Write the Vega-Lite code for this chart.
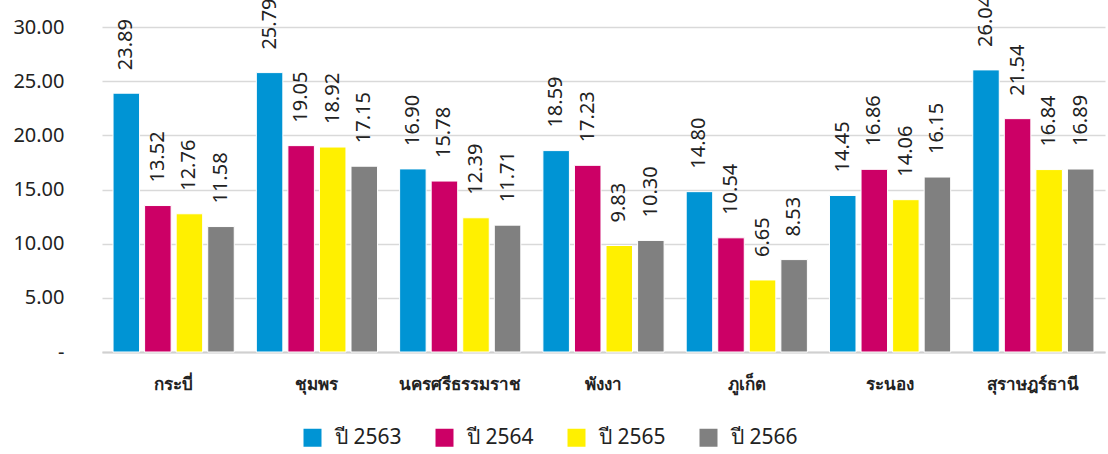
{
  "$schema": "https://vega.github.io/schema/vega-lite/v6.json",
  "autosize": "none",
  "width": 1003,
  "height": 325,
  "padding": {"left": 102, "top": 27, "right": 3, "bottom": 102},
  "background": "white",
  "config": {
    "view": {"stroke": null},
    "font": "Noto Sans"
  },
  "data": {
    "values": [
      {"province": "กระบี่", "year": "ปี 2563", "value": 23.89},
      {"province": "กระบี่", "year": "ปี 2564", "value": 13.52},
      {"province": "กระบี่", "year": "ปี 2565", "value": 12.76},
      {"province": "กระบี่", "year": "ปี 2566", "value": 11.58},
      {"province": "ชุมพร", "year": "ปี 2563", "value": 25.79},
      {"province": "ชุมพร", "year": "ปี 2564", "value": 19.05},
      {"province": "ชุมพร", "year": "ปี 2565", "value": 18.92},
      {"province": "ชุมพร", "year": "ปี 2566", "value": 17.15},
      {"province": "นครศรีธรรมราช", "year": "ปี 2563", "value": 16.90},
      {"province": "นครศรีธรรมราช", "year": "ปี 2564", "value": 15.78},
      {"province": "นครศรีธรรมราช", "year": "ปี 2565", "value": 12.39},
      {"province": "นครศรีธรรมราช", "year": "ปี 2566", "value": 11.71},
      {"province": "พังงา", "year": "ปี 2563", "value": 18.59},
      {"province": "พังงา", "year": "ปี 2564", "value": 17.23},
      {"province": "พังงา", "year": "ปี 2565", "value": 9.83},
      {"province": "พังงา", "year": "ปี 2566", "value": 10.30},
      {"province": "ภูเก็ต", "year": "ปี 2563", "value": 14.80},
      {"province": "ภูเก็ต", "year": "ปี 2564", "value": 10.54},
      {"province": "ภูเก็ต", "year": "ปี 2565", "value": 6.65},
      {"province": "ภูเก็ต", "year": "ปี 2566", "value": 8.53},
      {"province": "ระนอง", "year": "ปี 2563", "value": 14.45},
      {"province": "ระนอง", "year": "ปี 2564", "value": 16.86},
      {"province": "ระนอง", "year": "ปี 2565", "value": 14.06},
      {"province": "ระนอง", "year": "ปี 2566", "value": 16.15},
      {"province": "สุราษฎร์ธานี", "year": "ปี 2563", "value": 26.04},
      {"province": "สุราษฎร์ธานี", "year": "ปี 2564", "value": 21.54},
      {"province": "สุราษฎร์ธานี", "year": "ปี 2565", "value": 16.84},
      {"province": "สุราษฎร์ธานี", "year": "ปี 2566", "value": 16.89}
    ]
  },
  "encoding": {
    "x": {
      "field": "province",
      "type": "nominal",
      "sort": null,
      "scale": {"paddingInner": 0, "paddingOuter": 0},
      "axis": {
        "title": null,
        "labelAngle": 0,
        "labelFontSize": 17,
        "labelFontWeight": "bold",
        "labelColor": "#222222",
        "labelPadding": 24,
        "ticks": false,
        "domainColor": "#d0d0d0",
        "domainWidth": 2,
        "labelLimit": 300
      }
    },
    "xOffset": {
      "field": "year",
      "type": "nominal",
      "scale": {"paddingInner": 0.16, "paddingOuter": 0.35}
    },
    "y": {
      "field": "value",
      "type": "quantitative",
      "scale": {"domain": [0, 30], "nice": false},
      "axis": {
        "title": null,
        "values": [0, 5, 10, 15, 20, 25, 30],
        "labelExpr": "datum.value == 0 ? '-' : format(datum.value, '.2f')",
        "labelFontSize": 20,
        "labelColor": "#222222",
        "labelPadding": 38,
        "ticks": false,
        "domain": false,
        "gridColor": "#d9d9d9",
        "gridWidth": 1.5
      }
    }
  },
  "layer": [
    {
      "mark": {"type": "bar", "stroke": "white", "strokeWidth": 1},
      "encoding": {
        "color": {
          "field": "year",
          "type": "nominal",
          "scale": {
            "domain": ["ปี 2563", "ปี 2564", "ปี 2565", "ปี 2566"],
            "range": ["#0094d4", "#cc0066", "#fff000", "#808080"]
          },
          "legend": {
            "title": null,
            "orient": "none",
            "direction": "horizontal",
            "legendX": 200,
            "legendY": 400,
            "symbolType": "square",
            "symbolSize": 324,
            "symbolStrokeWidth": 0,
            "labelFontSize": 21,
            "labelColor": "#222222",
            "labelOffset": 12,
            "columnPadding": 32,
            "padding": 0
          }
        }
      }
    },
    {
      "mark": {
        "type": "text",
        "angle": 270,
        "align": "left",
        "baseline": "middle",
        "dx": 23,
        "fontSize": 20,
        "color": "#222222"
      },
      "encoding": {
        "text": {"field": "value", "type": "quantitative", "format": ".2f"}
      }
    }
  ]
}
